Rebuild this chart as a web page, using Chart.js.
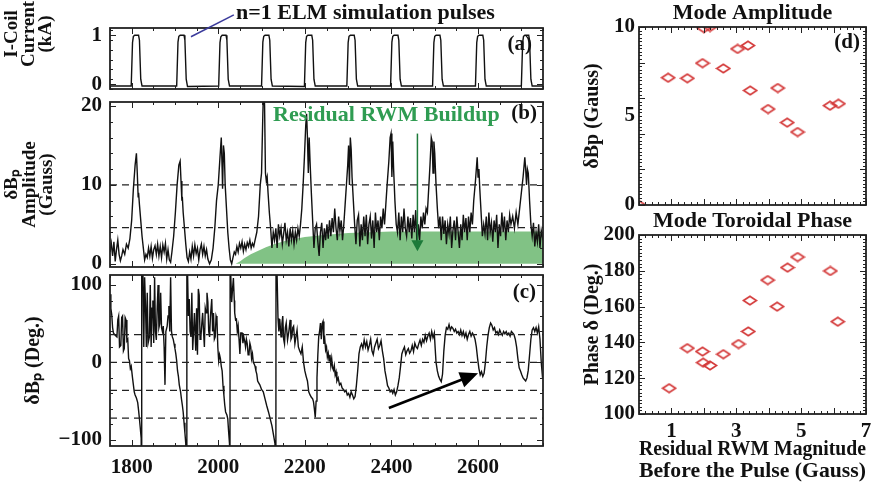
<!DOCTYPE html>
<html>
<head>
<meta charset="utf-8">
<script src="https://cdn.jsdelivr.net/npm/chart.js@4.4.0/dist/chart.umd.min.js"></script>
<style>
  body { margin: 0; background: #fff; width: 889px; height: 487px; position: relative; overflow: hidden; }
  canvas { position: absolute; }
</style>
</head>
<body>
<canvas id="cA" width="560" height="95" style="left:0;top:0"></canvas>
<canvas id="cB" width="560" height="177" style="left:0;top:95px"></canvas>
<canvas id="cC" width="560" height="215" style="left:0;top:272px"></canvas>
<canvas id="cD" width="314" height="215" style="left:575px;top:0"></canvas>
<canvas id="cE" width="314" height="282" style="left:575px;top:205px"></canvas>
<script>
// ---- data ----
const timeRange = [1750, 2750];
const timeLabels = [1800, 2000, 2200, 2400, 2600];

// (a) I-coil current, kA
const aTime = [1750,
  1799,1802,1804,1807,1816,1818,1821,1824,
  1904,1907,1909,1912,1921,1923,1926,1929,
  2001,2004,2006,2009,2018,2020,2023,2026,
  2100,2103,2105,2108,2117,2119,2122,2125,
  2199,2202,2204,2207,2216,2218,2221,2224,
  2297,2300,2302,2305,2314,2316,2319,2322,
  2398,2401,2403,2406,2415,2417,2420,2423,
  2495,2498,2500,2503,2512,2514,2517,2520,
  2594,2597,2599,2602,2611,2613,2616,2619,
  2700,2703,2705,2708,2717,2719,2722,2725,
  2750];
const aCurrent = [-0.04,
  -0.04,0.85,0.98,1.0,1.0,0.9,0.1,-0.04,
  -0.04,0.86,0.98,1.0,1.0,0.9,0.1,-0.05,
  -0.04,0.85,0.97,1.0,1.0,0.9,0.1,-0.04,
  -0.04,0.86,0.98,1.0,1.0,0.9,0.1,-0.04,
  -0.05,0.85,0.98,1.0,1.0,0.9,0.1,-0.04,
  -0.04,0.85,0.98,1.0,1.0,0.9,0.1,-0.04,
  -0.04,0.86,0.98,1.0,1.0,0.9,0.1,-0.04,
  -0.04,0.85,0.98,1.0,1.0,0.9,0.1,-0.04,
  -0.04,0.85,0.98,1.0,1.0,0.9,0.1,-0.04,
  -0.04,0.85,0.98,1.0,1.0,0.9,0.1,-0.04,
  -0.04];
const aYLabels = [0, 1];

// (b) dBp amplitude, Gauss
const bTime = [1750,1753,1756,1759,1762,1765,1768,1771,1774,1777,1780,1784,1788,1792,1796,1800,1804,1808,1811,1813,
  1815,1816,1818,1821,1824,1827,1830,1833,1836,1839,1842,1845,1848,1851,1854,1857,1860,1863,1866,1869,
  1872,1875,1878,1881,1884,1887,1890,1893,1897,1901,1905,1909,1912,1914,1916,1917,1919,1922,1925,1928,
  1931,1934,1937,1940,1943,1946,1949,1952,1955,1958,1961,1964,1967,1970,1973,1976,1980,1984,1988,1992,
  1996,2000,2004,2007,2009,2010,2012,2014,2016,2019,2022,2025,2028,2031,2034,2037,2040,2043,2046,2049,
  2052,2055,2058,2061,2064,2067,2070,2073,2076,2079,2082,2085,2089,2093,2097,2100,2103,2105,2107,2109,
  2111,2113,2115,2118,2121,2124,2127,2130,2133,2136,2139,2142,2145,2148,2151,2154,2157,2160,2163,2166,
  2169,2172,2175,2178,2181,2184,2187,2190,2193,2196,2199,2202,2204,2206,2208,2210,2212,2215,2218,2221,
  2224,2227,2230,2233,2236,2239,2242,2245,2248,2251,2254,2257,2260,2263,2266,2269,2272,2275,2278,2281,
  2284,2287,2290,2293,2296,2299,2301,2303,2305,2307,2309,2312,2315,2318,2321,2324,2327,2330,2333,2336,
  2339,2342,2345,2348,2351,2354,2357,2360,2363,2366,2369,2372,2375,2378,2381,2384,2387,2390,2394,2397,
  2399,2401,2403,2405,2408,2411,2414,2417,2420,2423,2426,2429,2432,2435,2438,2441,2444,2447,2450,2453,
  2456,2459,2462,2465,2468,2471,2474,2477,2480,2483,2486,2489,2492,2494,2496,2498,2500,2503,2506,2509,
  2512,2515,2518,2521,2524,2527,2530,2533,2536,2539,2542,2545,2548,2551,2554,2557,2560,2563,2566,2569,
  2572,2575,2578,2581,2584,2587,2590,2594,2598,2600,2602,2604,2607,2610,2613,2616,2619,2622,2625,2628,
  2631,2634,2637,2640,2643,2646,2649,2652,2655,2658,2661,2664,2667,2670,2673,2676,2680,2684,2688,2692,
  2696,2700,2704,2708,2710,2712,2714,2716,2719,2722,2725,2728,2731,2734,2737,2740,2743,2746,2750];
const bAmp = [1.5,2.6,1.0,2.8,0.3,1.8,3.0,1.2,0.4,1.0,1.8,1.2,2.5,2.0,3.2,5.5,9.5,12.5,14.0,11.5,
  8.5,9.0,7.5,5.5,3.5,2.0,0.5,1.2,0.8,2.0,1.0,2.2,0.7,1.8,2.3,1.2,2.5,1.0,2.2,0.8,
  2.4,1.5,2.6,0.6,1.8,0.5,0.2,1.5,3.5,6.5,10.0,12.5,13.0,10.5,8.0,8.5,6.5,4.5,2.5,0.8,
  0.3,1.5,0.6,2.2,1.0,2.4,1.3,2.0,0.5,1.8,2.5,1.2,2.2,1.0,1.8,0.6,0.0,0.5,2.0,4.5,
  8.0,10.0,13.5,16.0,12.0,9.5,15.0,14.0,10.0,7.0,4.0,2.0,0.5,0.0,0.8,1.5,1.2,2.2,1.5,2.6,
  2.0,2.8,1.6,2.5,1.8,2.7,2.2,3.0,2.0,2.6,2.2,3.0,4.0,6.0,10.0,11.5,19.0,23.0,20.0,11.5,
  10.5,11.0,9.0,6.5,4.5,2.0,4.0,3.0,4.5,2.0,5.0,3.5,4.5,2.5,3.8,5.2,3.0,4.0,2.2,4.5,
  3.0,4.2,2.5,4.0,3.0,4.5,3.5,5.0,7.0,10.0,13.5,17.5,19.0,16.0,11.5,16.0,13.0,9.0,5.5,2.0,
  4.5,5.0,2.8,1.0,4.0,5.2,2.0,4.5,3.0,5.0,3.2,5.5,3.5,5.8,4.0,7.0,4.5,3.0,6.0,4.2,
  5.5,3.0,5.0,7.5,10.0,12.5,15.0,10.0,16.0,14.5,11.0,8.0,5.0,2.5,5.5,6.2,2.2,5.0,3.0,6.0,
  3.5,6.2,2.5,5.0,6.0,3.2,5.5,2.0,6.5,4.0,5.5,3.0,6.0,4.5,7.0,5.0,7.5,10.0,13.0,16.0,
  16.5,11.0,15.5,12.0,8.0,5.0,4.0,6.5,3.0,6.0,4.0,7.0,4.5,3.5,6.0,4.0,5.8,3.2,6.2,4.0,
  6.8,2.5,5.0,3.0,6.0,4.5,6.5,5.0,7.0,6.5,9.5,12.5,16.0,15.5,11.5,15.5,14.0,10.0,7.0,4.5,
  6.0,3.0,6.0,3.8,5.5,2.5,5.0,3.8,6.0,2.0,4.2,5.5,3.0,6.0,4.0,2.0,5.0,3.0,6.2,4.0,
  5.8,3.0,6.0,4.0,6.5,5.0,8.0,10.5,13.5,11.0,12.0,9.5,6.5,3.5,5.0,3.8,6.0,3.0,6.5,4.0,
  5.2,2.8,5.5,4.0,6.2,2.0,5.0,3.5,6.5,4.0,6.0,3.0,5.5,4.0,6.2,5.0,6.0,4.5,6.5,5.0,
  7.0,9.0,11.0,13.5,12.0,10.0,12.0,11.5,8.0,5.0,3.5,5.2,2.2,4.0,2.8,5.0,2.0,4.2,3.0];
const bRefLevels = [10, 4.6];
// residual RWM buildup envelope (green)
const gTime = [2040, 2050, 2060, 2075, 2090, 2110, 2130, 2160, 2200, 2250, 2300, 2350, 2400, 2750];
const gLevel = [0, 0.3, 0.7, 1.2, 1.6, 2.1, 2.5, 3.0, 3.4, 3.7, 3.9, 4.0, 4.1, 4.1];
const greenArrow = [2460, 16.5, 2460, 1.6];
const bYLabels = [0, 10, 20];

// (c) dBp phase, degrees (values past +-180 mark the phase wraps)
const cTime = [1750,1752,1754,1756,1758,1762,1766,1768,1770,1772,1775,1777,1779,1781,1783,1785,1787,1789,1791,1793,
  1795,1797,1799,1802,1804,1806,1808,1811,1814,1816,1818,1820,1822,1823,1823.5,1826,1828,1830,1832,1834,
  1836,1838,1841,1843,1845,1847,1849,1851,1853,1855,1857,1859,1861,1863,1865,1867,1869,1871,1873,1875,
  1877,1879,1882,1884,1886,1888,1890,1892,1894,1896,1898,1900,1902,1904,1906,1908,1910,1913,1915,1917,
  1919,1921,1923,1925,1927,1927.5,1929,1931,1933,1935,1937,1939,1941,1943,1945,1948,1950,1952,1954,1956,
  1958,1960,1962,1964,1966,1968,1970,1972,1974,1976,1978,1980,1982,1985,1987,1989,1991,1993,1995,1997,
  1999,2001,2003,2005,2007,2009,2011,2013,2015,2017,2020,2022,2024,2026,2027,2027.5,2029,2031,2033,2035,
  2037,2038,2040,2042,2044,2046,2048,2050,2052,2055,2057,2059,2061,2063,2065,2067,2069,2071,2073,2075,
  2077,2079,2081,2083,2085,2087,2089,2091,2094,2096,2100,2104,2108,2112,2116,2120,2124,2128,2131,2133,
  2133.5,2136,2138,2140,2142,2145,2147,2149,2151,2153,2155,2157,2160,2163,2166,2168,2170,2172,2174,2177,
  2180,2182,2185,2188,2191,2194,2197,2200,2203,2206,2209,2212,2215,2218,2220,2222,2224,2226,2228,2230,
  2232,2234,2236,2238,2240,2242,2244,2246,2248,2250,2252,2254,2256,2258,2260,2262,2264,2266,2268,2270,
  2272,2274,2277,2280,2283,2286,2289,2292,2295,2298,2301,2304,2307,2310,2313,2316,2319,2322,2325,2328,
  2331,2334,2337,2340,2343,2346,2349,2352,2355,2358,2361,2364,2367,2370,2373,2376,2379,2382,2385,2388,
  2391,2394,2397,2400,2403,2406,2409,2412,2415,2418,2421,2424,2427,2430,2433,2436,2439,2442,2445,2448,
  2451,2454,2457,2460,2463,2466,2469,2472,2475,2478,2481,2484,2487,2490,2493,2496,2499,2501,2503,2506,
  2509,2512,2515,2518,2521,2524,2527,2530,2533,2536,2539,2542,2545,2548,2551,2554,2557,2560,2563,2566,
  2569,2572,2575,2578,2581,2584,2587,2590,2593,2596,2599,2602,2605,2608,2611,2614,2617,2620,2623,2626,
  2629,2632,2635,2638,2641,2644,2647,2650,2653,2656,2659,2662,2665,2668,2671,2674,2677,2680,2683,2686,
  2689,2692,2695,2698,2701,2704,2707,2710,2713,2716,2719,2722,2725,2728,2731,2734,2737,2740,2743,2746,
  2749];
const cPhase = [88,70,62,45,38,35,33,55,60,20,22,58,60,15,18,58,55,28,30,5,
  2,-8,-5,-20,-29,-38,-42,-46,-52,-62,-73,-85,-98,-200,200,120,20,110,73,20,
  90,25,33,100,20,70,80,25,110,40,29,70,100,45,50,90,45,40,47,20,
  -29,40,47,60,73,40,110,40,33,30,24,18,11,2,-11,-18,-29,-38,-47,-55,
  -64,-78,-91,-105,-200,200,120,60,82,40,33,90,16,40,64,15,70,10,95,87,
  30,33,50,64,40,20,70,64,90,78,40,33,60,82,40,64,30,33,60,56,
  20,2,10,5,-5,-11,-30,-42,-55,-64,-68,-73,-90,-105,-200,200,110,78,95,109,
  80,64,55,56,40,47,30,11,38,38,25,33,28,20,30,24,10,11,25,20,
  5,11,0,-2,-5,-11,-15,-24,-27,-29,-35,-38,-47,-56,-64,-73,-82,-95,-105,-200,
  200,110,57,40,56,33,50,60,30,24,45,51,29,40,55,30,33,45,47,24,
  35,42,20,15,11,20,0,-11,-18,-24,-38,-42,-45,-47,-51,-60,-71,-50,-20,10,
  33,40,51,30,50,53,24,30,16,20,7,12,2,10,-4,5,-7,-10,-4,-16,
  -12,-24,-20,-29,-27,-33,-35,-38,-36,-42,-40,-45,-38,-42,-47,-44,-30,-11,11,20,
  24,18,29,20,27,16,22,30,15,10,20,25,30,18,22,28,15,5,-11,-20,
  -30,-33,-38,-36,-40,-35,-42,-38,-30,-20,-5,11,16,20,10,15,18,12,15,22,
  14,25,20,18,24,29,22,30,26,35,28,34,38,30,40,32,38,18,0,-11,
  -18,-22,-25,-15,15,35,45,43,49,42,46,44,40,43,38,40,36,42,35,40,
  33,38,30,36,40,34,38,35,30,20,5,-8,-16,-12,-18,-14,0,20,35,45,
  51,48,42,45,38,40,36,42,38,35,40,37,40,36,38,34,40,38,36,30,
  20,5,-7,-11,-16,-20,-22,-24,-20,-10,10,30,42,45,40,45,38,46,30,0,
  -20];
const cRefLevels = [36, 0, -36, -72];
const blackArrow = [2394, -59, 2600, -14];
const cYLabels = [-100, 0, 100];

// (d), (e): residual RWM magnitude before each pulse vs mode amplitude / phase
const residual = [0, 0.9, 1.49, 1.96, 2.0, 2.19, 2.6, 3.04, 3.36, 3.43, 3.98, 4.28, 4.57, 4.89, 5.89, 6.15];
const modeAmp = [0, 7.15, 7.12, 7.97, 9.94, 10.0, 7.67, 8.77, 8.96, 6.43, 5.39, 6.57, 4.63, 4.1, 5.58, 5.69];
const phaseResidual = [0.93, 1.49, 1.96, 1.98, 2.19, 2.6, 3.07, 3.37, 3.42, 3.97, 4.26, 4.58, 4.89, 5.9, 6.13];
const modePhase = [114.4, 136.8, 134.9, 128.7, 127.1, 133.4, 139.1, 146.1, 163.4, 174.8, 160.0, 181.8, 187.7, 179.9, 151.6];
const rXLabels = [1, 3, 5, 7];
const dYLabels = [0, 5, 10];
const eYLabels = [100, 120, 140, 160, 180, 200];

// ---- drawing ----
const serif = '"Liberation Serif", "Times New Roman", serif';
Chart.defaults.font.family = serif;
Chart.defaults.font.weight = 'bold';
Chart.defaults.font.size = 21;
Chart.defaults.color = '#111';

function steps(a, b, s) {
  const out = [];
  for (let v = a; v <= b + 1e-9; v += s) out.push(+v.toFixed(4));
  return out;
}
const pts = (xs, ys) => xs.map((x, i) => ({x: x, y: ys[i]}));
const minus = v => (v < 0 ? '\u2212' + Math.abs(v) : String(v));

// inward IDL style ticks + box, and annotations, per canvas id
const frames = {
  cA: {xMinor: steps(1750, 2750, 50), xMajor: timeLabels, yMinor: steps(-0.1, 1.1, 0.2), yMajor: aYLabels},
  cB: {xMinor: steps(1750, 2750, 50), xMajor: timeLabels, yMinor: steps(0, 20, 2), yMajor: bYLabels},
  cC: {xMinor: steps(1750, 2750, 50), xMajor: timeLabels, yMinor: steps(-100, 100, 20), yMajor: cYLabels},
  cD: {xMinor: steps(0, 7, 0.2), xMajor: steps(1, 7, 1), yMinor: steps(0, 10, 0.2), yMajor: steps(0, 10, 2)},
  cE: {xMinor: steps(0, 7, 0.2), xMajor: steps(1, 7, 1), yMinor: steps(100, 200, 2), yMajor: eYLabels}
};
const notes = {
  cA: [
    {type: 'vtext', lines: ['I-Coil', 'Current', '(kA)'], x: 12, y: 34, lh: 17, size: 19},
    {type: 'line', pts: [1937, 0.97, 2036, 1.42], color: '#3b3b9c', width: 1.5},
    {type: 'text', text: 'n=1 ELM simulation pulses', x: 236, y: 13, align: 'left', size: 22},
    {type: 'text', text: '(a)', rx: -11, ty: 17, align: 'right', size: 21}
  ],
  cB: [
    {type: 'text', text: 'Residual RWM Buildup', x: 273, y: 20, align: 'left', size: 22, color: '#2f9c52'},
    {type: 'text', text: '(b)', rx: -6, ty: 12, align: 'right', size: 21},
    {type: 'arrow', pts: greenArrow, color: '#1d7a3a', width: 1.5, head: 11, headW: 6}
  ],
  cC: [
    {type: 'text', text: '(c)', rx: -7, ty: 18, align: 'right', size: 21},
    {type: 'arrow', pts: blackArrow, color: '#000', width: 2.6, head: 18, headW: 8}
  ],
  cD: [
    {type: 'text', text: '(d)', rx: -6, ty: 16, align: 'right', size: 21}
  ],
  cE: []
};

Chart.register({
  id: 'idlFrame',
  afterDraw(chart) {
    const f = frames[chart.canvas.id];
    const {ctx, chartArea: a} = chart;
    const xs = chart.scales.x, ys = chart.scales.y;
    ctx.save();
    ctx.strokeStyle = '#222';
    ctx.lineWidth = 1;
    ctx.beginPath();
    const seg = (x1, y1, x2, y2) => { ctx.moveTo(x1, y1); ctx.lineTo(x2, y2); };
    [[f.xMinor, 3], [f.xMajor, 6]].forEach(([vals, len]) => vals.forEach(v => {
      const p = Math.round(xs.getPixelForValue(v)) + 0.5;
      seg(p, a.bottom, p, a.bottom - len); seg(p, a.top, p, a.top + len);
    }));
    [[f.yMinor, 3], [f.yMajor, 6]].forEach(([vals, len]) => vals.forEach(v => {
      const p = Math.round(ys.getPixelForValue(v)) + 0.5;
      seg(a.left, p, a.left + len, p); seg(a.right, p, a.right - len, p);
    }));
    ctx.stroke();
    ctx.lineWidth = 1.8;
    ctx.strokeRect(a.left, a.top, a.right - a.left, a.bottom - a.top);

    (notes[chart.canvas.id] || []).forEach(n => {
      ctx.fillStyle = ctx.strokeStyle = n.color || '#111';
      if (n.type === 'text') {
        ctx.font = 'bold ' + n.size + 'px ' + serif;
        ctx.textAlign = n.align;
        ctx.textBaseline = 'middle';
        const x = n.rx !== undefined ? a.right + n.rx : n.x;
        const y = n.ty !== undefined ? a.top + n.ty : n.y;
        ctx.fillText(n.text, x, y);
      } else if (n.type === 'vtext') {
        ctx.font = 'bold ' + n.size + 'px ' + serif;
        ctx.textAlign = 'center';
        ctx.textBaseline = 'middle';
        n.lines.forEach((t, i) => {
          ctx.save();
          ctx.translate(n.x + i * n.lh, n.y);
          ctx.rotate(-Math.PI / 2);
          ctx.fillText(t, 0, 0);
          ctx.restore();
        });
      } else {
        const x1 = xs.getPixelForValue(n.pts[0]), y1 = ys.getPixelForValue(n.pts[1]);
        const x2 = xs.getPixelForValue(n.pts[2]), y2 = ys.getPixelForValue(n.pts[3]);
        ctx.lineWidth = n.width;
        const ang = Math.atan2(y2 - y1, x2 - x1);
        const hl = n.type === 'arrow' ? n.head : 0;
        ctx.beginPath();
        ctx.moveTo(x1, y1);
        ctx.lineTo(x2 - Math.cos(ang) * hl * 0.8, y2 - Math.sin(ang) * hl * 0.8);
        ctx.stroke();
        if (n.type === 'arrow') {
          ctx.beginPath();
          ctx.moveTo(x2, y2);
          ctx.lineTo(x2 - Math.cos(ang) * hl - Math.sin(ang) * n.headW, y2 - Math.sin(ang) * hl + Math.cos(ang) * n.headW);
          ctx.lineTo(x2 - Math.cos(ang) * hl + Math.sin(ang) * n.headW, y2 - Math.sin(ang) * hl - Math.cos(ang) * n.headW);
          ctx.closePath();
          ctx.fill();
        }
      }
    });
    ctx.restore();
  }
});

function axis(min, max, labels, extra) {
  return Object.assign({
    type: 'linear', min: min, max: max,
    grid: {display: false, drawTicks: false},
    border: {display: false},
    ticks: {padding: 8, font: {size: 21}, callback: minus},
    afterBuildTicks: s => { s.ticks = labels.map(v => ({value: v})); }
  }, extra || {});
}
// fixed axis sizes, and no extra room for labels that overhang the plot box
const noPad = s => { s.paddingTop = s.paddingBottom = s.paddingLeft = s.paddingRight = 0; };
const fixW = w => s => { s.width = w; noPad(s); };
const fixH = h => s => { s.height = h; noPad(s); };

function trace(xs, ys, extra) {
  return Object.assign({data: pts(xs, ys), borderColor: '#111', borderWidth: 1.4, pointRadius: 0, tension: 0}, extra || {});
}
function refLines(levels) {
  return levels.map(v => ({
    data: pts(timeRange, [v, v]), borderColor: '#222', borderWidth: 1.2, borderDash: [7, 5], pointRadius: 0
  }));
}
const baseOpts = {
  responsive: false, animation: false, events: [],
  plugins: {legend: {display: false}, tooltip: {enabled: false}}
};

// (a)
new Chart(document.getElementById('cA'), {
  type: 'line',
  data: {datasets: [trace(aTime, aCurrent)]},
  options: Object.assign({}, baseOpts, {
    layout: {padding: {top: 28, right: 17, bottom: 6, left: 0}},
    scales: {
      x: axis(timeRange[0], timeRange[1], [], {display: false}),
      y: axis(-0.1, 1.15, aYLabels, {afterFit: fixW(110)})
    }
  })
});

// (b)
new Chart(document.getElementById('cB'), {
  type: 'line',
  data: {datasets: refLines(bRefLevels).concat([
    trace(bTime, bAmp),
    {data: pts(gTime, gLevel), borderWidth: 0, pointRadius: 0, fill: 'origin', backgroundColor: 'rgba(70,165,75,0.68)'}
  ])},
  options: Object.assign({}, baseOpts, {
    layout: {padding: {top: 7, right: 17, bottom: 5, left: 0}},
    scales: {
      x: axis(timeRange[0], timeRange[1], [], {display: false}),
      y: axis(-0.4, 20.5, bYLabels, {
        afterFit: fixW(110),
        title: {display: true, text: ['\u03b4B\u209a', 'Amplitude', '(Gauss)'], font: {size: 19, lineHeight: 0.9}, padding: {top: 4}}
      })
    }
  })
});

// (c)
new Chart(document.getElementById('cC'), {
  type: 'line',
  data: {datasets: refLines(cRefLevels).concat([trace(cTime, cPhase)])},
  options: Object.assign({}, baseOpts, {
    layout: {padding: {top: 3, right: 17, bottom: 0, left: 0}},
    scales: {
      x: axis(timeRange[0], timeRange[1], timeLabels, {afterFit: fixH(41), ticks: {padding: 9, font: {size: 21}, callback: minus}}),
      y: axis(-108, 113, cYLabels, {
        afterFit: fixW(110),
        title: {display: true, text: '\u03b4B\u209a (Deg.)', font: {size: 20}, padding: {top: 22}}
      })
    }
  })
});

// diamond marker, a bit wider than tall as in the figure
const diamond = document.createElement('canvas');
diamond.width = 16; diamond.height = 11;
(function () {
  const g = diamond.getContext('2d');
  g.strokeStyle = '#d43a3a'; g.lineWidth = 1.7;
  g.beginPath(); g.moveTo(1.5, 5.5); g.lineTo(8, 1.2); g.lineTo(14.5, 5.5); g.lineTo(8, 9.8); g.closePath(); g.stroke();
})();

function scatterOpts(yMin, yMax, yLabels, yTitle, titleText, titlePad, xExtra, bottomPad) {
  return Object.assign({}, baseOpts, {
    layout: {padding: {top: 0, right: 23, bottom: bottomPad, left: 0}},
    plugins: {
      legend: {display: false}, tooltip: {enabled: false},
      title: {display: true, text: titleText, fullSize: false, font: {size: 22, lineHeight: 1}, padding: titlePad, color: '#111'}
    },
    scales: {
      x: axis(0, 7, xExtra ? rXLabels : [], xExtra || {display: false}),
      y: axis(yMin, yMax, yLabels, {
        afterFit: fixW(64),
        ticks: {padding: 4, font: {size: 21}, callback: minus},
        title: {display: true, text: yTitle, font: {size: 20}, padding: {top: 6}}
      })
    }
  });
}

// (d)
new Chart(document.getElementById('cD'), {
  type: 'scatter',
  data: {datasets: [{data: pts(residual, modeAmp), pointStyle: diamond, clip: 0}]},
  options: scatterOpts(0, 10, dYLabels, '\u03b4Bp (Gauss)', 'Mode Amplitude', {top: 2, bottom: 3}, null, 10)
});

// (e)
new Chart(document.getElementById('cE'), {
  type: 'scatter',
  data: {datasets: [{data: pts(phaseResidual, modePhase), pointStyle: diamond}]},
  options: scatterOpts(100, 200, eYLabels, 'Phase \u03b4 (Deg.)', 'Mode Toroidal Phase', {top: 5, bottom: 3}, {
    afterFit: fixH(73),
    ticks: {padding: 5, font: {size: 21}, callback: minus},
    title: {display: true, text: ['Residual RWM Magnitude', 'Before the Pulse (Gauss)'], font: {size: 22, lineHeight: 1}, padding: {top: 0, bottom: 5}}
  }, 0)
});
</script>
</body>
</html>
